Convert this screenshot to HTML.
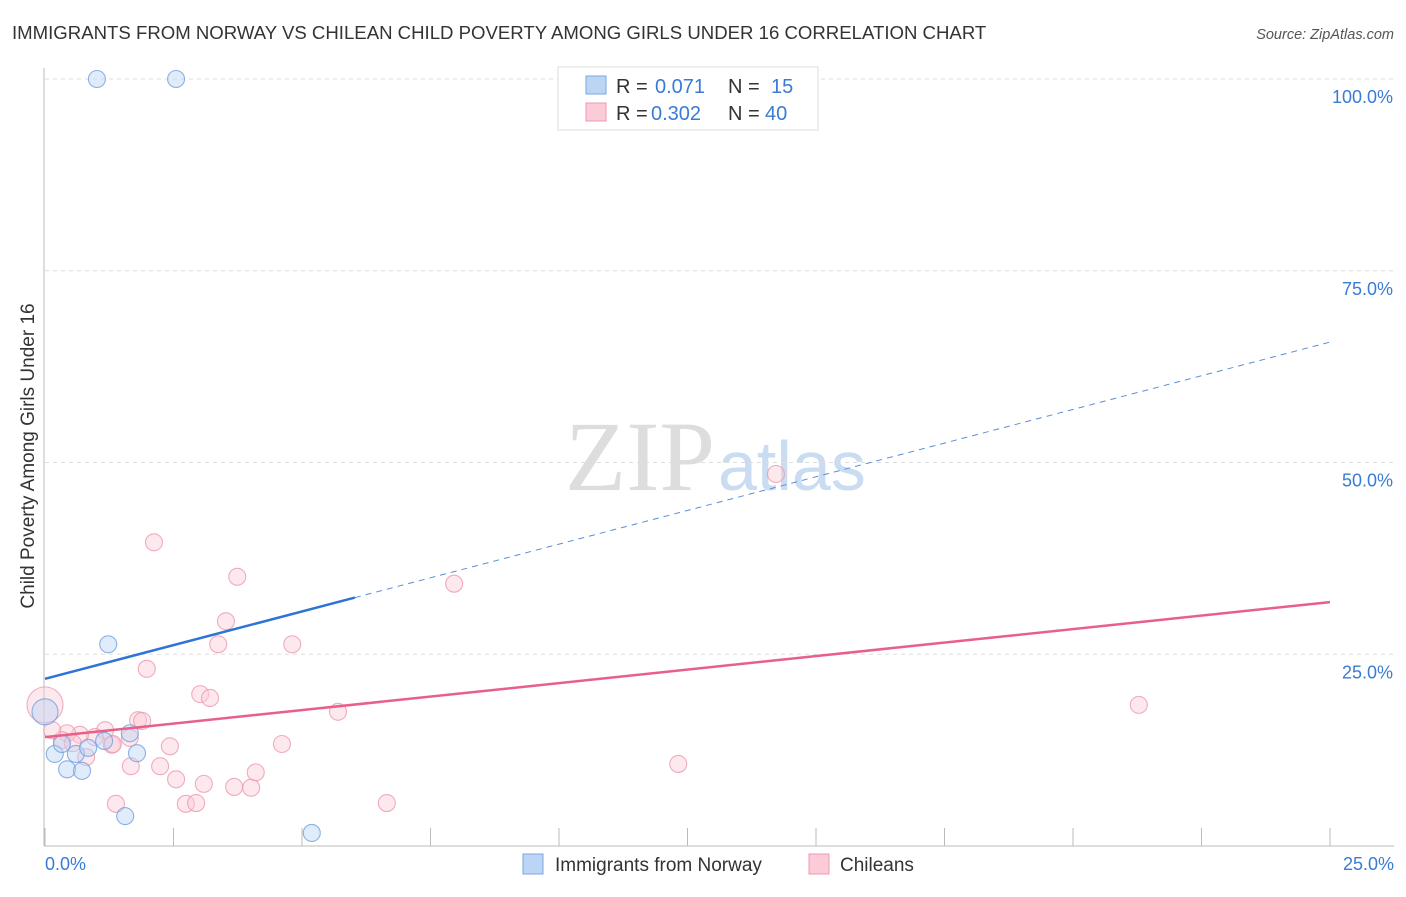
<!DOCTYPE html>
<html><head><meta charset="utf-8"><style>
body{margin:0;background:#fff;font-family:"Liberation Sans",sans-serif}
svg text{font-family:"Liberation Sans",sans-serif}
</style></head><body>
<svg id="c" width="1406" height="892">
<text x="12" y="39" font-size="18.6" fill="#333">IMMIGRANTS FROM NORWAY VS CHILEAN CHILD POVERTY AMONG GIRLS UNDER 16 CORRELATION CHART</text>
<text x="1394" y="39" font-size="14.5" fill="#555" font-style="italic" text-anchor="end">Source: ZipAtlas.com</text>
<text x="715" y="490" font-size="100" fill="#ddd" text-anchor="end" style="font-family:'Liberation Serif',serif">ZIP</text>
<text x="718" y="490" font-size="70" fill="#c9dcf2">atlas</text>
<g id="grid"></g><g id="axes"></g><g id="pts"></g><g id="lines"></g>
<text transform="translate(34,456) rotate(-90)" font-size="19" fill="#333" text-anchor="middle">Child Poverty Among Girls Under 16</text>
<g>
<rect x="558" y="67" width="260" height="63" fill="#fff" stroke="#ddd"/>
<rect x="586" y="76" width="20" height="18" fill="#bcd5f5" stroke="#7aa7e0"/>
<rect x="586" y="103" width="20" height="18" fill="#fbcbd8" stroke="#ec98b0"/>
<text x="616" y="93" font-size="20" fill="#333">R = </text><text x="655" y="93" font-size="20" fill="#3a7bd5">0.071</text>
<text x="728" y="93" font-size="20" fill="#333">N = </text><text x="771" y="93" font-size="20" fill="#3a7bd5">15</text>
<text x="616" y="120" font-size="20" fill="#333">R = </text><text x="651" y="120" font-size="20" fill="#3a7bd5">0.302</text>
<text x="728" y="120" font-size="20" fill="#333">N = </text><text x="765" y="120" font-size="20" fill="#3a7bd5">40</text>
</g>
<g>
<rect x="523" y="854" width="20" height="20" fill="#bcd5f5" stroke="#7aa7e0"/>
<text x="555" y="871" font-size="19" fill="#333">Immigrants from Norway</text>
<rect x="809" y="854" width="20" height="20" fill="#fbcbd8" stroke="#ec98b0"/>
<text x="840" y="871" font-size="19" fill="#333">Chileans</text>
</g>
</svg>
<script>
const blueX=[1.01,2.55,1.23,0.19,0.43,0.72,0.60,0.33,0.84,1.65,1.79,1.56,5.19,0,1.15];
const blueY=[100,100,26.3,12.0,10.0,9.8,12.0,13.3,12.8,14.7,12.1,3.9,1.7,17.5,13.7];
const pinkX=[2.12,3.74,7.96,14.22,3.52,3.37,4.81,1.98,3.02,3.21,5.70,21.28,1.81,1.89,4.61,2.43,1.17,0.97,0.68,0.43,0.33,1.65,1.30,0.80,1.67,2.24,2.55,3.09,3.68,4.01,4.10,1.38,2.74,2.94,6.65,12.32,0,1.32,0.54,0.14];
const pinkY=[39.6,35.1,34.2,48.5,29.3,26.3,26.3,23.1,19.8,19.3,17.5,18.4,16.4,16.3,13.3,13.0,15.1,14.2,14.5,14.7,13.8,14.1,13.2,11.6,10.4,10.4,8.7,8.1,7.7,7.6,9.6,5.5,5.5,5.6,5.6,10.7,18.4,13.3,13.4,15.1];
const yTicks=[25,50,75,100];
const yTickLabels=["25.0%","50.0%","75.0%","100.0%"];
const xTicks=[0,2.5,5,7.5,10,12.5,15,17.5,20,22.5,25];
const blueTrend=[21.8,65.7];const blueSolidEnd=6.03;
const pinkTrend=[14.2,31.8];
const X=v=>45+v/25*1285, Y=v=>846-v/100*767;
const NS="http://www.w3.org/2000/svg";
function mk(p,t,a){const e=document.createElementNS(NS,t);for(const k in a)e.setAttribute(k,a[k]);document.getElementById(p).appendChild(e);return e;}
yTicks.forEach((t,i)=>{
 const l=mk('grid','line',{x1:45,x2:1394,y1:Y(t),y2:Y(t),stroke:'#ddd','stroke-dasharray':'4,4'});
 
 
 const tx=mk('grid','text',{x:1393,y:Y(t)+24,'font-size':18,fill:'#3a7bd5','text-anchor':'end'});tx.textContent=yTickLabels[i];
 
 
});
const ax=mk('axes','line',{x1:44,x2:44,y1:68,y2:846,stroke:'#bbb'});


const bx=mk('axes','line',{x1:44,x2:1394,y1:846,y2:846,stroke:'#bbb'});


xTicks.forEach(t=>{const l=mk('axes','line',{x1:X(t),x2:X(t),y1:828,y2:846,stroke:'#bbb'});
 
 });
const x0=mk('axes','text',{x:45,y:870,'font-size':18,fill:'#3a7bd5'});x0.textContent='0.0%';


const x1=mk('axes','text',{x:1394,y:870,'font-size':18,fill:'#3a7bd5','text-anchor':'end'});x1.textContent='25.0%';


function pts(xs,ys,fill,stroke,name,bigR){xs.forEach((x,i)=>{const r=(x===0)?bigR:8.5;
 const c=mk('pts','circle',{cx:X(x),cy:Y(ys[i]),r:r,fill:fill,'fill-opacity':0.45,stroke:stroke,'stroke-opacity':0.8,'stroke-width':1.1});
 
 });}
pts(pinkX,pinkY,'#fbcbd8','#ec98b0','chilean-point',18);
pts(blueX,blueY,'#bcd5f5','#6f9fe0','norway-point',13);
const bt=v=>blueTrend[0]+(blueTrend[1]-blueTrend[0])*v/25;
const l1=mk('lines','line',{x1:X(0),y1:Y(bt(0)),x2:X(blueSolidEnd),y2:Y(bt(blueSolidEnd)),stroke:'#2e73d6','stroke-width':2.5});


const l2=mk('lines','line',{x1:X(blueSolidEnd),y1:Y(bt(blueSolidEnd)),x2:X(25),y2:Y(bt(25)),stroke:'#5a8fd8','stroke-width':1,'stroke-dasharray':'6,5'});


const l3=mk('lines','line',{x1:X(0),y1:Y(pinkTrend[0]),x2:X(25),y2:Y(pinkTrend[1]),stroke:'#e8608a','stroke-width':2.5});


</script>
</body></html>
